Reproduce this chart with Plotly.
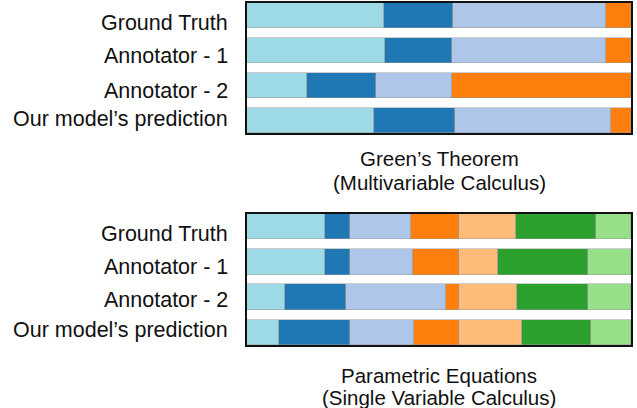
import plotly.graph_objects as go

rows = ["Ground Truth", "Annotator - 1", "Annotator - 2", "Our model’s prediction"]

# Panel 1: Green's Theorem (segment durations, % of video)
green_seg1 = [35.7, 35.9, 15.5, 33.2]
green_seg2 = [17.9, 17.5, 18.0, 21.0]
green_seg3 = [39.8, 40.1, 19.9, 40.6]
green_seg4 = [6.6, 6.5, 46.6, 5.2]

# Panel 2: Parametric Equations
param_seg1 = [20.3, 20.3, 9.8, 8.3]
param_seg2 = [6.4, 6.6, 16.1, 18.6]
param_seg3 = [16.1, 16.4, 25.8, 16.6]
param_seg4 = [12.4, 11.9, 3.5, 11.7]
param_seg5 = [14.8, 10.2, 15.0, 16.3]
param_seg6 = [21.0, 23.4, 18.6, 18.2]
param_seg7 = [9.0, 11.2, 11.2, 10.3]

colors = ["#9edae5", "#1f77b4", "#aec7e8", "#ff7f0e", "#ffbb78", "#2ca02c", "#98df8a"]

title1 = ["Green’s Theorem", "(Multivariable Calculus)"]
title2 = ["Parametric Equations", "(Single Variable Calculus)"]

panels = [
    ([green_seg1, green_seg2, green_seg3, green_seg4], "x", "y"),
    ([param_seg1, param_seg2, param_seg3, param_seg4, param_seg5, param_seg6, param_seg7], "x2", "y2"),
]

FONT = "Liberation Sans, Arial, Helvetica, sans-serif"

fig = go.Figure()
for segs, xa, ya in panels:
    for i, s in enumerate(segs):
        fig.add_trace(go.Bar(
            y=rows, x=s, orientation="h", xaxis=xa, yaxis=ya,
            marker=dict(color=colors[i], line=dict(color="rgba(150,150,150,0.6)", width=0.8)),
            width=0.72, showlegend=False, hoverinfo="x+y",
        ))

W, H = 637, 408
xd = [247 / W, 631 / W]
y1d = [1 - 133 / H, 1 - 3 / H]
y2d = [1 - 345 / H, 1 - 214 / H]

axcommon = dict(showgrid=False, zeroline=False, showline=True, mirror=True,
                linecolor="#111", linewidth=2)
yax = dict(axcommon, categoryorder="array", categoryarray=rows,
           range=[3.36, -0.36], autorange=False, showticklabels=False, ticks="")

fig.update_layout(
    width=W, height=H, margin=dict(l=0, r=0, t=0, b=0),
    plot_bgcolor="white", paper_bgcolor="white", barmode="stack", bargap=0,
    xaxis=dict(axcommon, domain=xd, range=[0, 100], showticklabels=False, ticks="", anchor="y"),
    yaxis=dict(yax, domain=y1d, anchor="x"),
    xaxis2=dict(axcommon, domain=xd, range=[0, 100], showticklabels=False, ticks="", anchor="y2"),
    yaxis2=dict(yax, domain=y2d, anchor="x2"),
    font=dict(family=FONT, color="#111"),
)

# row labels (left of each panel)
label_y = [[23, 56, 91, 119], [234, 267, 300, 330]]
for ys in label_y:
    for txt, ypx in zip(rows, ys):
        fig.add_annotation(text=txt, x=230 / W, y=1 - ypx / H, xref="paper", yref="paper",
                           showarrow=False, xanchor="right", yanchor="middle",
                           font=dict(size=21.5, color="#111", family=FONT))

xc = (xd[0] + xd[1]) / 2
for txt, ypx in [(title1[0], 159), (title1[1], 182), (title2[0], 375), (title2[1], 397)]:
    fig.add_annotation(text=txt, x=xc, y=1 - ypx / H, xref="paper", yref="paper",
                       showarrow=False, xanchor="center", yanchor="middle",
                       font=dict(size=20.5, color="#111", family=FONT))

fig.write_html("out.html", config={"displayModeBar": False},
               post_script="document.body.style.margin='0';document.body.style.overflow='hidden';")
